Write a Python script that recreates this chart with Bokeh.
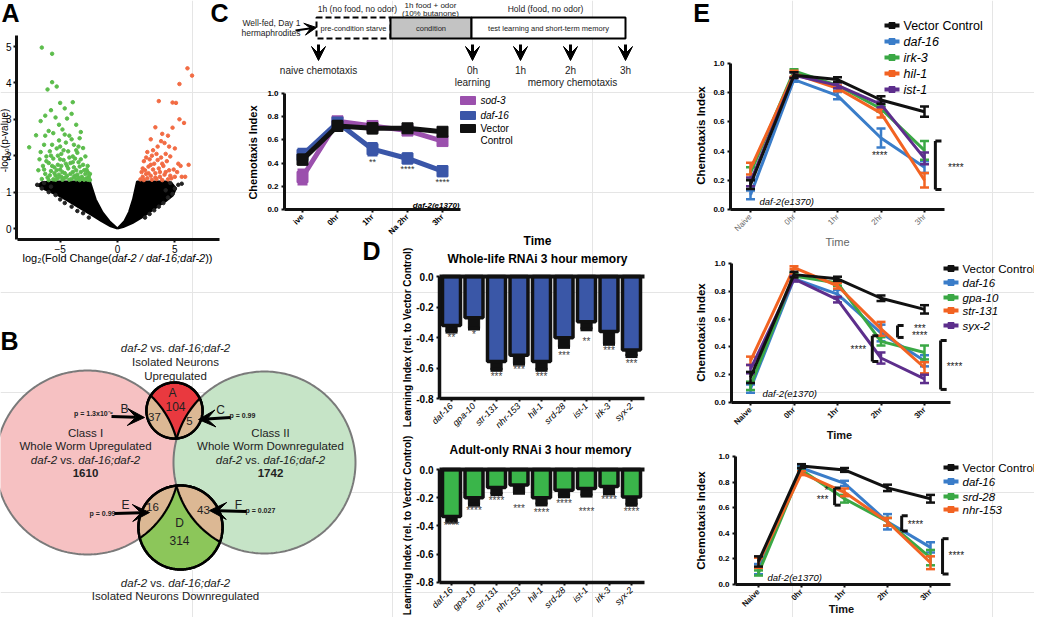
import math
import numpy as np
from bokeh.plotting import figure
from bokeh.models import Range1d, LinearAxis, FixedTicker, Arrow, VeeHead, ColumnDataSource, PrintfTickFormatter
from bokeh.core.properties import value
from bokeh.embed import file_html
from bokeh.resources import INLINE

FONT = "Liberation Sans"

# ---------------- Panel A : volcano data ----------------
a_green_x = [-6.6, -5.7, -5.7, -5.3, -6.1, -5.0, -3.9, -5.8, -6.3, -4.6, -7.1, -7.7, -6.7, -5.4, -4.4, -4.0,
             -3.6, -4.8, -6.0, -5.6, -4.2, -3.3, -3.0, -6.4, -5.1, -4.5, -3.8, -2.8, -6.2, -5.9, -5.3, -4.9,
             -4.3, -3.5, -3.2, -2.6, -6.5, -6.0, -5.6, -5.2, -4.7, -4.1, -3.7, -3.3, -2.9, -2.5, -6.3, -5.8,
             -5.4, -5.0, -4.6, -4.3, -3.9, -3.5, -3.1, -2.7, -2.4, -6.6, -6.1, -5.6, -5.2, -4.8, -4.5, -4.0,
             -3.6, -3.3, -2.9, -5.0, -4.4, -3.8, -5.5, -6.8, -4.0, -3.4, -2.6, -5.7, -4.6, -3.2, -5.1, -2.4,
             -6.4, -6.2, -5.9, -5.7, -5.5, -5.3, -5.1, -4.9, -4.7, -4.5, -4.4, -4.2, -4.1, -3.9, -3.7, -3.6,
             -3.4, -3.2, -3.0, -2.8, -2.7, -2.5, -6.0, -5.4, -4.9, -4.2, -3.8, -3.4, -3.0, -2.6, -6.9, -6.7,
             -5.0, -4.7, -3.6, -4.8, -5.8, -6.3, -5.2, -3.9]
a_green_y = [4.97, 4.80, 4.02, 3.90, 3.82, 3.45, 3.47, 3.25, 3.10, 3.30, 2.56, 2.23, 2.95, 3.05, 3.02, 3.15,
             2.85, 2.72, 2.68, 2.62, 2.55, 2.48, 2.21, 2.30, 2.42, 2.36, 2.30, 1.98, 1.98, 2.12, 2.20, 2.05,
             2.12, 2.08, 1.90, 1.72, 1.72, 1.80, 1.92, 1.75, 1.88, 1.80, 1.92, 1.70, 1.60, 1.45, 1.50, 1.58,
             1.45, 1.62, 1.52, 1.65, 1.55, 1.48, 1.42, 1.38, 1.33, 1.36, 1.40, 1.35, 1.38, 1.34, 1.40, 1.36,
             1.35, 1.33, 1.34, 1.90, 1.72, 1.68, 1.68, 1.90, 2.45, 2.25, 1.55, 2.30, 2.58, 2.65, 2.85, 1.50,
             1.62, 1.85, 1.46, 1.72, 1.52, 1.60, 1.48, 1.72, 1.38, 1.78, 1.45, 1.95, 1.50, 1.98, 1.45, 1.60,
             1.82, 1.55, 1.75, 1.50, 1.62, 1.38, 1.33, 1.34, 1.42, 1.34, 1.42, 1.40, 1.36, 1.34, 1.60, 2.10,
             2.25, 2.15, 2.15, 1.55, 2.00, 2.55, 2.00, 1.82]
a_red_x = [6.1, 6.5, 5.4, 4.8, 3.6, 5.1, 5.4, 5.8, 3.3, 4.8, 3.9, 4.4, 2.9, 4.1, 5.0, 3.5, 2.6, 3.0, 4.6, 3.8,
           4.2, 5.5, 6.2, 2.3, 2.7, 3.2, 3.6, 4.0, 4.5, 5.2, 2.1, 2.5, 2.9, 3.3, 3.7, 4.1, 4.7, 5.6, 2.0, 2.3,
           2.6, 3.0, 3.4, 3.9, 4.4, 5.9, 2.8, 3.4, 2.2, 2.4, 2.7, 2.9, 3.1, 3.3, 3.5, 3.7, 3.9, 4.2, 4.3, 4.6,
           4.9, 5.0, 5.3, 2.5, 3.1, 3.8, 4.5, 2.2]
a_red_y = [4.40, 4.20, 3.97, 3.46, 3.50, 3.45, 3.00, 2.90, 2.78, 2.77, 2.60, 2.55, 2.45, 2.35, 2.20, 2.25,
           2.10, 2.00, 1.98, 1.95, 2.05, 1.72, 1.75, 1.85, 1.70, 1.78, 1.65, 1.72, 1.60, 1.55, 1.55, 1.50,
           1.45, 1.52, 1.42, 1.48, 1.38, 1.42, 1.35, 1.33, 1.38, 1.34, 1.36, 1.33, 1.35, 1.42, 1.90, 2.05,
           1.42, 1.60, 1.52, 1.75, 1.62, 1.40, 1.88, 1.55, 1.78, 1.55, 1.85, 1.45, 1.62, 1.42, 1.78, 1.95,
           2.15, 2.40, 2.25, 1.65]
a_black_x = [-7.0, -6.6, -6.0, -5.4, -5.0, -4.6, -4.0, -3.5, -3.0, -2.5, -6.4, -5.8, 4.6, 5.0, 4.8, 4.4, 4.0,
             3.6, 3.2, 2.8, 2.4, 5.3, 4.2, 5.6]
a_black_y = [1.20, 1.10, 1.00, 0.92, 0.80, 0.70, 0.60, 0.48, 0.42, 0.30, 1.25, 1.15, 1.25, 1.10, 0.95, 0.85,
             0.70, 0.60, 0.50, 0.40, 0.30, 1.20, 1.05, 1.23]
a_cloud_l_x = [0.0, -0.7, -1.3, -1.9, -2.4, -4.0, -5.5, -6.6, -6.9, -6.3, -5.1, -4.1, -3.05, -2.2, -1.4, -0.6]
a_cloud_l_y = [0.0, 0.2, 0.44, 0.8, 1.29, 1.29, 1.29, 1.27, 1.18, 1.07, 0.9, 0.72, 0.52, 0.36, 0.2, 0.06]
a_cloud_r_x = [0.0, 0.6, 1.0, 1.35, 1.7, 3.0, 4.2, 4.7, 5.1, 4.8, 4.2, 3.6, 2.8, 2.1, 1.3, 0.5]
a_cloud_r_y = [0.0, 0.2, 0.45, 0.8, 1.29, 1.29, 1.29, 1.25, 1.1, 0.9, 0.75, 0.63, 0.45, 0.3, 0.15, 0.04]
a_xticks = [-5, 0, 5]
a_yticks = [0, 1, 2, 3, 4, 5]

# ---------------- Panel B : Venn counts ----------------
b_region_letters = ["A", "B", "C", "D", "E", "F"]
b_region_counts = ["104", "37", "5", "314", "16", "43"]
b_class_counts = ["1610", "1742"]
b_pvalues = ["p = 1.3x10⁻⁹", "p = 0.99", "p = 0.99", "p = 0.027"]

# ---------------- Panel C ----------------
c_times = ["ive", "0hr", "1hr", "Na 2hr", "3hr"]
c_series = ["sod-3", "daf-16", "Vector Control"]
c_sod3 = [0.28, 0.76, 0.72, 0.68, 0.59]
c_sod3_err = [0.06, 0.03, 0.03, 0.03, 0.03]
c_daf16 = [0.47, 0.75, 0.52, 0.44, 0.33]
c_daf16_err = [0.05, 0.03, 0.05, 0.04, 0.04]
c_vec = [0.43, 0.72, 0.70, 0.70, 0.67]
c_vec_err = [0.04, 0.04, 0.04, 0.03, 0.03]
c_sig = ["**", "****", "****"]
c_sig_x = [2, 3, 4]
c_sig_y = [0.41, 0.345, 0.24]
c_yticks = [0.0, 0.2, 0.4, 0.6, 0.8, 1.0]
c_stages = ["pre-condition starve", "condition", "test learning and short-term memory"]
c_timepoints = ["naive chemotaxis", "0h", "1h", "2h", "3h"]

# ---------------- Panel D ----------------
d_genes = ["daf-16", "gpa-10", "str-131", "nhr-153", "hil-1", "srd-28", "ist-1", "irk-3", "syx-2"]
d_whole = [-0.32, -0.27, -0.555, -0.515, -0.555, -0.40, -0.295, -0.36, -0.48]
d_whole_err = [0.04, 0.07, 0.055, 0.055, 0.055, 0.06, 0.05, 0.08, 0.04]
d_whole_sig = ["**", "*", "***", "***", "***", "***", "**", "***", "***"]
d_whole_sig_y = [-0.40, -0.38, -0.655, -0.61, -0.655, -0.515, -0.425, -0.485, -0.57]
d_adult = [-0.333, -0.20, -0.127, -0.11, -0.20, -0.147, -0.135, -0.12, -0.195]
d_adult_err = [0.037, 0.05, 0.048, 0.055, 0.048, 0.043, 0.05, 0.05, 0.055]
d_adult_sig = ["****", "****", "****", "***", "****", "****", "****", "****", "****"]
d_adult_sig_y = [-0.40, -0.293, -0.22, -0.28, -0.307, -0.24, -0.30, -0.213, -0.30]
d_yticks = [0.0, -0.2, -0.4, -0.6, -0.8]

# ---------------- Panel E ----------------
e_times = ["Naive", "0hr", "1hr", "2hr", "3hr"]
e1_names = ["Vector Control", "daf-16", "irk-3", "hil-1", "ist-1"]
e1_vals = [[0.17, 0.92, 0.89, 0.75, 0.67], [0.10, 0.89, 0.78, 0.49, 0.29], [0.25, 0.95, 0.85, 0.69, 0.405],
           [0.28, 0.93, 0.83, 0.66, 0.20], [0.19, 0.92, 0.85, 0.72, 0.35]]
e1_errs = [[0.03, 0.02, 0.015, 0.025, 0.035], [0.03, 0.015, 0.025, 0.065, 0.04], [0.04, 0.01, 0.02, 0.02, 0.065],
           [0.04, 0.02, 0.02, 0.03, 0.05], [0.03, 0.02, 0.02, 0.02, 0.04]]
e2_names = ["Vector Control", "daf-16", "gpa-10", "str-131", "syx-2"]
e2_vals = [[0.18, 0.92, 0.89, 0.75, 0.67], [0.10, 0.89, 0.78, 0.50, 0.30], [0.12, 0.91, 0.86, 0.44, 0.36],
           [0.30, 0.97, 0.84, 0.53, 0.25], [0.24, 0.89, 0.74, 0.32, 0.17]]
e2_errs = [[0.04, 0.02, 0.015, 0.02, 0.03], [0.03, 0.015, 0.03, 0.06, 0.04], [0.03, 0.02, 0.02, 0.03, 0.05],
           [0.03, 0.01, 0.02, 0.05, 0.04], [0.03, 0.02, 0.02, 0.04, 0.03]]
e3_names = ["Vector Control", "daf-16", "srd-28", "nhr-153"]
e3_vals = [[0.18, 0.925, 0.895, 0.755, 0.67], [0.12, 0.91, 0.79, 0.49, 0.29], [0.09, 0.895, 0.67, 0.49, 0.21],
           [0.17, 0.87, 0.72, 0.49, 0.17]]
e3_errs = [[0.04, 0.015, 0.015, 0.025, 0.03], [0.04, 0.015, 0.02, 0.06, 0.04], [0.02, 0.015, 0.03, 0.03, 0.06],
           [0.04, 0.015, 0.03, 0.03, 0.05]]
e_yticks = [0.0, 0.2, 0.4, 0.6, 0.8, 1.0]
e1_brackets = [(4.25, 0.137, 0.47)]
e1_sig = [("****", 2.97, 0.37), ("****", 4.72, 0.29)]
e2_brackets = [(3.38, 0.468, 0.554), (2.8, 0.295, 0.48), (4.37, 0.094, 0.446)]
e2_sig = [("***", 3.89, 0.535), ("****", 3.89, 0.48), ("****", 2.48, 0.38), ("****", 4.69, 0.26)]
e3_brackets = [(1.77, 0.62, 0.754), (3.33, 0.418, 0.537), (4.28, 0.082, 0.358)]
e3_sig = [("*", 1.58, 0.735), ("***", 1.49, 0.665), ("****", 3.65, 0.47), ("****", 4.6, 0.224)]

BLACK = "#111111"
E_COLORS1 = [BLACK, "#3a7dc9", "#3aa845", "#f26322", "#5d2e8c"]
E_COLORS2 = [BLACK, "#3a7dc9", "#3aa845", "#f26322", "#5d2e8c"]
E_COLORS3 = [BLACK, "#3a7dc9", "#3aa845", "#f26322"]

# ---------------- figure (pixel coordinate canvas) ----------------
p = figure(width=1034, height=617, x_range=Range1d(8, 1042), y_range=Range1d(625, 8),
           output_backend="svg", toolbar_location=None, x_axis_location=None, y_axis_location=None,
           min_border=0)
p.outline_line_color = None
p.background_fill_color = "white"
p.border_fill_color = "white"


def xr(x0, k):
    return Range1d(start=(8 - x0) / k, end=(1042 - x0) / k)


def yr(y0, k):
    return Range1d(start=(y0 - 625) / k, end=(y0 - 8) / k)


p.extra_x_ranges = {"Ax": xr(125, 11.47), "Cx": xr(310, 35), "D1x": xr(459, 22.5), "D2x": xr(459, 22.5),
                    "E1x": xr(758, 43.5), "E2x": xr(758, 43.5), "E3x": xr(766, 43)}
p.extra_y_ranges = {"Ay": yr(236, 36.4), "Cy": yr(217, 116), "D1y": yr(284, 153), "D2y": yr(477, 141),
                    "E1y": yr(217, 146), "E2y": yr(410, 139), "E3y": yr(592, 128)}

W = {'a': 556, 'b': 556, 'c': 500, 'd': 556, 'e': 556, 'f': 278, 'g': 556, 'h': 556, 'i': 222, 'j': 222,
     'k': 500, 'l': 222, 'm': 833, 'n': 556, 'o': 556, 'p': 556, 'q': 556, 'r': 333, 's': 500, 't': 278,
     'u': 556, 'v': 500, 'w': 722, 'x': 500, 'y': 500, 'z': 500, '-': 333, ';': 278, '.': 278, ' ': 278,
     '(': 333, ')': 333, '/': 278, 'C': 722, 'F': 611, '₂': 380}


def tw(s, size):
    return sum(W.get(ch, 556) for ch in s) * size / 1000.0


def T(x, y, s, size=11, style="normal", align="center", baseline="middle", angle=0.0, color="black",
      xn="default", yn="default"):
    xs = list(x) if isinstance(x, (list, tuple)) else [x]
    ys = list(y) if isinstance(y, (list, tuple)) else [y]
    ss = list(s) if isinstance(s, (list, tuple)) else [s]
    p.text(x=xs, y=ys, text=ss, text_font=value(FONT), text_font_size=f"{size}px", text_font_style=style,
           text_align=align, text_baseline=baseline, angle=angle, text_color=color,
           x_range_name=xn, y_range_name=yn)


def mixed(cx, y, parts, size, color="black"):
    total = sum(tw(s, size) for s, st in parts)
    x = cx - total / 2
    for s, st in parts:
        lead = len(s) - len(s.lstrip())
        T(x + tw(" " * lead, size), y, s.strip(), size=size, style=st, align="left", color=color)
        x += tw(s, size)


def axis(side, rname, loc, ticks, bounds, size=8, style="bold", color="black", overrides=None,
         orient="horizontal", lw=2.5, standoff=3, tick_out=4, show_labels=True, fmt=None):
    if side in ("below", "above"):
        ax = LinearAxis(x_range_name=rname, fixed_location=loc)
    else:
        ax = LinearAxis(y_range_name=rname, fixed_location=loc)
    ax.ticker = FixedTicker(ticks=ticks, minor_ticks=[])
    if fmt:
        ax.formatter = PrintfTickFormatter(format=fmt)
    ax.bounds = bounds
    ax.axis_line_width = lw
    ax.axis_line_color = BLACK
    ax.major_tick_line_width = 2
    ax.major_tick_line_color = BLACK
    ax.major_tick_out = tick_out
    ax.major_tick_in = 0
    ax.minor_tick_out = 0
    ax.minor_tick_in = 0
    ax.major_label_standoff = standoff
    ax.major_label_text_font = FONT
    ax.major_label_text_font_size = f"{size}px" if show_labels else "0px"
    ax.major_label_text_font_style = style
    ax.major_label_text_color = color
    ax.major_label_orientation = orient
    if overrides:
        ax.major_label_overrides = overrides
    p.add_layout(ax, side)
    return ax


def errbars(xs, ys, es, color, xn, yn, lw=2.5, cap=8):
    lo = [a - b for a, b in zip(ys, es)]
    hi = [a + b for a, b in zip(ys, es)]
    p.segment(x0=xs, y0=lo, x1=xs, y1=hi, line_color=color, line_width=lw, x_range_name=xn, y_range_name=yn)
    p.scatter(x=list(xs) + list(xs), y=lo + hi, marker="dash", size=cap, line_color=color, line_width=lw,
              x_range_name=xn, y_range_name=yn)


# ================= Panel letters =================
for s, x, y in [("A", 18, 20), ("B", 17, 348), ("C", 227, 20), ("D", 379, 258), ("E", 709, 20)]:
    T(x, y, s, size=25, style="bold")

# ================= Panel A =================
p.patch(x=a_cloud_l_x, y=a_cloud_l_y, fill_color="black", line_color="black", line_width=2,
        x_range_name="Ax", y_range_name="Ay")
p.patch(x=a_cloud_r_x, y=a_cloud_r_y, fill_color="black", line_color="black", line_width=2,
        x_range_name="Ax", y_range_name="Ay")
p.scatter(x=a_black_x, y=a_black_y, size=3.5, color="#222222", x_range_name="Ax", y_range_name="Ay")
p.scatter(x=a_green_x, y=a_green_y, size=3.5, color="#5cbd4c", x_range_name="Ax", y_range_name="Ay")
p.scatter(x=a_red_x, y=a_red_y, size=3.5, color="#f26b43", x_range_name="Ax", y_range_name="Ay")
axis("left", "Ay", 24, a_yticks, (-0.3, 5.3), size=10, style="normal", lw=3, tick_out=3, standoff=2)
axis("below", "Ax", 247, a_xticks, (-8.75, 8.9), size=10, style="normal", lw=3, tick_out=3, standoff=2)
mixed(125, 265, [("log₂(Fold Change(", "normal"), ("daf-2 / daf-16;daf-2", "italic"), ("))", "normal")], 11)
T(11.5, 148, "-log₁₀(p-value)", size=10, angle=math.pi / 2)

# ================= Panel B (Venn) =================
def circ(cx, cy, r, n=360):
    t = np.linspace(0, 2 * np.pi, n, endpoint=False)
    return cx + r * np.cos(t), cy + r * np.sin(t)


def lens(c1, c2):
    x1, y1 = circ(*c1)
    m1 = (x1 - c2[0]) ** 2 + (y1 - c2[1]) ** 2 <= c2[2] ** 2
    x2, y2 = circ(*c2)
    m2 = (x2 - c1[0]) ** 2 + (y2 - c1[1]) ** 2 <= c1[2] ** 2
    xs = np.concatenate([x1[m1], x2[m2]])
    ys = np.concatenate([y1[m1], y2[m2]])
    cx, cy = xs.mean(), ys.mean()
    o = np.argsort(np.arctan2(ys - cy, xs - cx))
    return list(xs[o]), list(ys[o])


PINK = (95, 470, 92)
GREEN = (272, 470, 91)
TOP = (182, 418, 28)
BOT = (188, 535, 42)
for c, fc in [(PINK, "#f6c1c2"), (GREEN, "#c6e4c7")]:
    xs, ys = circ(*c)
    p.patch(x=list(xs), y=list(ys), fill_color=fc, line_color="#7a7a7a", line_width=2)
for c, fc in [(TOP, "#e9393f"), (BOT, "#8cc65a")]:
    xs, ys = circ(*c)
    p.patch(x=list(xs), y=list(ys), fill_color=fc, line_color="black", line_width=2.5)
    for big in (PINK, GREEN):
        lx, ly = lens(c, big)
        p.patch(x=lx, y=ly, fill_color="#dcb894", line_color="black", line_width=2.2)
    p.patch(x=list(xs), y=list(ys), fill_color=None, line_color="black", line_width=2.5)

mixed(183, 355, [("daf-2", "italic"), (" vs. ", "normal"), ("daf-16;daf-2", "italic")], 11.5, color="#222")
T(183, 369, "Isolated Neurons", size=11.5, color="#222")
T(183, 383, "Upregulated", size=11.5, color="#222")
for cx, cls, desc, cnt in [(93, "Class I", "Whole Worm Upregulated", b_class_counts[0]),
                           (278, "Class II", "Whole Worm Downregulated", b_class_counts[1])]:
    T(cx, 440, cls, size=11.5, color="#222")
    T(cx, 453, desc, size=11.5, color="#222")
    mixed(cx, 467, [("daf-2", "italic"), (" vs. ", "normal"), ("daf-16;daf-2", "italic")], 11.5, color="#222")
    T(cx, 480, cnt, size=11.5, style="bold", color="#222")
mixed(183, 590, [("daf-2", "italic"), (" vs. ", "normal"), ("daf-16;daf-2", "italic")], 11.5, color="#222")
T(183, 603, "Isolated Neurons Downregulated", size=11.5, color="#222")
T([180, 187], [400, 530], [b_region_letters[0], b_region_letters[3]], size=12, color="#222")
T([183, 187], [414, 548], [b_region_counts[0], b_region_counts[3]], size=12, color="#222")
T([162, 197, 160, 211], [424, 428, 514, 517],
  [b_region_counts[1], b_region_counts[2], b_region_counts[4], b_region_counts[5]], size=11.5, color="#222")
arrows = ColumnDataSource(dict(x0=[119, 238, 122, 254], y0=[424, 425, 521, 519],
                               x1=[152, 206, 157, 217], y1=[425, 427, 520, 518]))
p.add_layout(Arrow(end=VeeHead(size=17, fill_color="black", line_color="black"), source=arrows,
                   x_start="x0", y_start="y0", x_end="x1", y_end="y1", line_width=3, line_color="black"))
T([132, 228, 133, 246], [416, 417, 512, 512],
  [b_region_letters[1], b_region_letters[2], b_region_letters[4], b_region_letters[5]], size=12, color="#222")
T([101], [421], [b_pvalues[0]], size=7, style="bold", color="#222")
T([237, 253], [423, 518], [b_pvalues[1], b_pvalues[3]], size=7, style="bold", align="left", color="#222")
T([110], [521], [b_pvalues[2]], size=7, style="bold", color="#222")

# ================= Panel C schematic =================
stage_x = [324, 398, 479, 633]
p.quad(left=stage_x[0], right=stage_x[1], top=25, bottom=46, fill_color="white", line_color="black",
       line_width=2, line_dash="6 3")
p.quad(left=stage_x[1], right=stage_x[2], top=25, bottom=46, fill_color="#c3c3c3", line_color="black",
       line_width=2)
p.quad(left=stage_x[2], right=stage_x[3], top=25, bottom=46, fill_color="white", line_color="black",
       line_width=2)
T([(stage_x[i] + stage_x[i + 1]) / 2 for i in range(3)], [35.5] * 3, c_stages, size=7.5, color="#222")
T(365, 16, "1h (no food, no odor)", size=8.5, color="#222")
T(438, 13, "1h food + odor", size=8, color="#222")
T(438, 21, "(10% butanone)", size=8, color="#222")
T(553, 16, "Hold (food, no odor)", size=8.5, color="#222")
T(250, 30, "Well-fed, Day 1", size=8.5, color="#222", align="left")
T(249, 40, "hermaphrodites", size=8.5, color="#222", align="left")
tp_x = [326, 480, 528, 578, 633]
down = ColumnDataSource(dict(x0=tp_x, y0=[52] * 5, x1=tp_x, y1=[68] * 5))
p.add_layout(Arrow(end=VeeHead(size=14, fill_color="black", line_color="black"), source=down,
                   x_start="x0", y_start="y0", x_end="x1", y_end="y1", line_width=3, line_color="black"))
p.add_layout(Arrow(end=VeeHead(size=12, fill_color="black", line_color="black"),
                   x_start=303, y_start=38, x_end=324, y_end=35, line_width=2, line_color="black"))
T(tp_x, [78] * 5, c_timepoints, size=10, color="#222")
T(480, 90, "learning", size=10, color="#222")
T(580, 90, "memory chemotaxis", size=10, color="#222")

# ================= Panel C chart =================
cx_idx = list(range(len(c_times)))
for vals, errs, col in [(c_sod3, c_sod3_err, "#9b50ad"), (c_daf16, c_daf16_err, "#3a56a8"),
                        (c_vec, c_vec_err, BLACK)]:
    p.line(x=cx_idx, y=vals, line_width=5, line_color=col, x_range_name="Cx", y_range_name="Cy")
    errbars(cx_idx, vals, errs, col, "Cx", "Cy", lw=3, cap=10)
    p.scatter(x=cx_idx, y=vals, marker="square", size=11, color=col, x_range_name="Cx", y_range_name="Cy")
axis("left", "Cy", 292, c_yticks, (0, 1.0), size=8, lw=3, tick_out=3, fmt="%.1f")
axis("below", "Cx", 217, cx_idx, (-0.51, 4.51), size=8, lw=3, tick_out=3,
     overrides={i: t for i, t in enumerate(c_times)}, orient=math.pi / 4)
T(c_sig_x, c_sig_y, c_sig, size=9, color="#333", xn="Cx", yn="Cy")
T(467, 213, "daf-2(e1370)", size=8, style="bold italic", align="right")
T(260, 160, "Chemotaxis Index", size=11, style="bold", angle=math.pi / 2)
T(545, 248, "Time", size=12, style="bold")
leg_y = [108, 123, 136]
leg_col = ["#9b50ad", "#3a56a8", BLACK]
p.quad(left=[468] * 3, right=[483] * 3, top=[y - 4 for y in leg_y], bottom=[y + 4 for y in leg_y],
       fill_color=leg_col, line_color=leg_col)
T([488, 488], leg_y[:2], c_series[:2], size=10, style="italic", align="left")
T([488, 488], [136, 148], c_series[2].split(" "), size=10, align="left")

# ================= Panel D =================
dx_idx = list(range(len(d_genes)))
T(545, 266, "Whole-life RNAi 3 hour memory", size=12, style="bold")
T(548, 457, "Adult-only RNAi 3 hour memory", size=12, style="bold")
for vals, errs, sig, sig_y, col, xn, yn, ytop, ybot, ylab in [
        (d_whole, d_whole_err, d_whole_sig, d_whole_sig_y, "#3a57a7", "D1x", "D1y", 284, 406, 345),
        (d_adult, d_adult_err, d_adult_sig, d_adult_sig_y, "#3ab54a", "D2x", "D2y", 477, 590, 533)]:
    lo = [v - e for v, e in zip(vals, errs)]
    p.vbar(x=dx_idx, top=vals, bottom=lo, width=0.5, fill_color=BLACK, line_color=BLACK, line_width=1,
           x_range_name=xn, y_range_name=yn)
    p.scatter(x=dx_idx, y=lo, marker="dash", size=12, line_color=BLACK, line_width=4,
              x_range_name=xn, y_range_name=yn)
    p.vbar(x=dx_idx, top=[0] * len(vals), bottom=vals, width=0.8, fill_color=col, line_color=BLACK,
           line_width=3.5, x_range_name=xn, y_range_name=yn)
    T(dx_idx, sig_y, sig, size=10, color="#444", xn=xn, yn=yn)
    axis("left", yn, 447, d_yticks, (-0.8, 0.0), size=10, lw=3.5, tick_out=3, fmt="%.1f")
    axis("below", xn, ybot, dx_idx, (-0.53, 8.58), size=9, style="italic", lw=3.5, tick_out=3,
         overrides={i: g for i, g in enumerate(d_genes)}, orient=math.pi / 4)
    axis("above", xn, ytop, [], (-0.53, 8.58), lw=4, show_labels=False)
    T(415, ylab, "Learning Index (rel. to Vector Control)", size=10, style="bold", angle=math.pi / 2)

# ================= Panel E =================
ex_idx = list(range(len(e_times)))


def bracket(xs_name, ys_name, x, y0, y1, tick=0.14):
    p.segment(x0=[x, x, x], y0=[y0, y0, y1], x1=[x, x + tick, x + tick], y1=[y1, y0, y1], line_color=BLACK,
              line_width=3, x_range_name=xs_name, y_range_name=ys_name)


panels = [
    (e1_names, e1_vals, e1_errs, E_COLORS1, "E1x", "E1y", 738, 217, (-0.46, 4.46), e1_brackets, e1_sig,
     [33, 49, 65, 81, 97], 892, 12.5, 143, (845, 249), "#666666", "normal", (767, 209)),
    (e2_names, e2_vals, e2_errs, E_COLORS2, "E2x", "E2y", 739, 410, (-0.44, 4.6), e2_brackets, e2_sig,
     [276, 290, 305, 318, 333], 951, 11.5, 340, (847, 442), BLACK, "bold", (770, 401)),
    (e3_names, e3_vals, e3_errs, E_COLORS3, "E3x", "E3y", 743, 592, (-0.53, 4.47), e3_brackets, e3_sig,
     [475, 489, 504, 517], 951, 11.5, 528, (849, 616), BLACK, "bold", (775, 585)),
]
for (names, vals, errs, cols, xn, yn, yax_x, xax_y, xb, brs, sigs, leg_ys, leg_x, leg_fs, ylab_y, tpos, tcol,
     tstyle, dpos) in panels:
    order = list(range(1, len(names))) + [0]
    for i in order:
        p.line(x=ex_idx, y=vals[i], line_width=3, line_color=cols[i], x_range_name=xn, y_range_name=yn)
        errbars(ex_idx, vals[i], errs[i], cols[i], xn, yn, lw=2.5, cap=9)
    for (bx, b0, b1) in brs:
        bracket(xn, yn, bx, b0, b1)
    T([s[1] for s in sigs], [s[2] for s in sigs], [s[0] for s in sigs], size=10, color="#222", xn=xn, yn=yn)
    axis("left", yn, yax_x, e_yticks, (0, 1.0), size=8, lw=3, tick_out=3, fmt="%.1f")
    axis("below", xn, xax_y, ex_idx, xb, size=8, lw=3, tick_out=3, style=tstyle, color=tcol,
         overrides={i: t for i, t in enumerate(e_times)}, orient=math.pi / 4)
    T(708, ylab_y, "Chemotaxis Index", size=11.5, style="bold", angle=math.pi / 2)
    T(tpos[0], tpos[1], "Time", size=11, style=tstyle, color=tcol)
    T(dpos[0], dpos[1], "daf-2(e1370)", size=9.5, style="italic", align="left")
    p.segment(x0=[leg_x] * len(names), y0=leg_ys, x1=[leg_x + 15] * len(names), y1=leg_ys,
              line_color=cols, line_width=4)
    p.scatter(x=[leg_x + 7.5] * len(names), y=leg_ys, marker="square", size=6, color=cols)
    T([leg_x + 19], [leg_ys[0]], [names[0]], size=leg_fs, align="left")
    T([leg_x + 19] * (len(names) - 1), leg_ys[1:], names[1:], size=leg_fs, style="italic", align="left")

open("out.html", "w").write(file_html(p, INLINE))
